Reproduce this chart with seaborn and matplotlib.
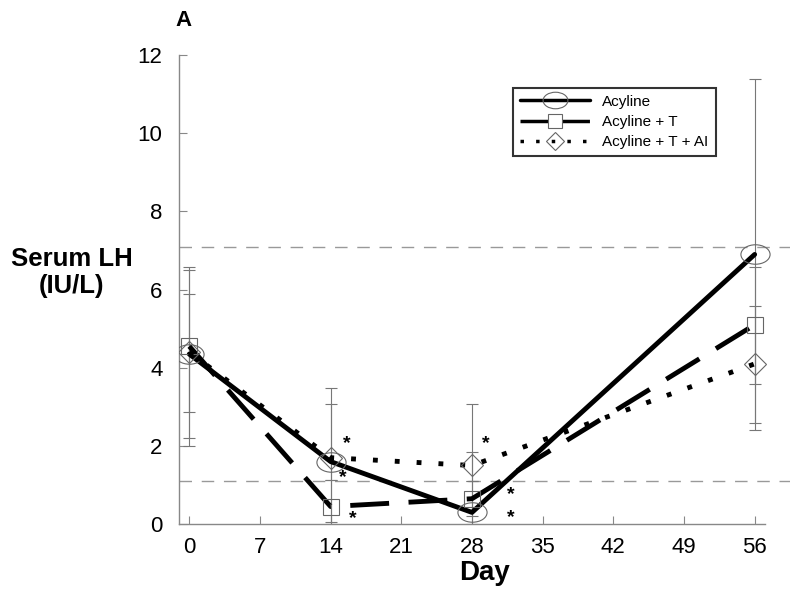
import numpy as np
import pandas as pd
import matplotlib
matplotlib.use("Agg")
import matplotlib.pyplot as plt
import seaborn as sns
from matplotlib.path import Path
from matplotlib.transforms import Affine2D

# ------------------------------------------------------------
# Data (serum LH, IU/L)
# ------------------------------------------------------------
days = [0, 14, 28, 56]
x_ticks = [0, 7, 14, 21, 28, 35, 42, 49, 56]

acyline = [4.35, 1.6, 0.3, 6.9]
acyline_hi = [6.5, 3.48, 3.07, 11.4]
acyline_lo = [2.2, 0.05, 0.0, 2.4]

acyline_t = [4.55, 0.45, 0.65, 5.1]
acyline_t_hi = [6.57, 1.12, 1.1, 6.57]
acyline_t_lo = [2.0, 0.0, 0.2, 3.58]

acyline_t_ai = [4.4, 1.7, 1.5, 4.1]
acyline_t_ai_hi = [5.9, 3.07, 1.84, 5.57]
acyline_t_ai_lo = [2.86, 1.12, 1.1, 2.58]

ref_low, ref_high = 1.1, 7.1

# significance stars (day, level)
star_x = [15.6, 15.2, 16.2, 29.4, 31.8, 31.8]
star_y = [2.07, 1.2, 0.15, 2.07, 0.75, 0.18]

# ------------------------------------------------------------
sns.set_style("ticks")
plt.rcParams["font.family"] = ["Liberation Sans", "DejaVu Sans"]
plt.rcParams["text.color"] = "black"

ellipse = Path.unit_circle().transformed(Affine2D().scale(1.5, 1.0))

series = [
    ("Acyline", acyline, acyline_lo, acyline_hi, "-", ellipse, 21),
    ("Acyline + T", acyline_t, acyline_t_lo, acyline_t_hi, (0, (8, 4)), "s", 12),
    ("Acyline + T + AI", acyline_t_ai, acyline_t_ai_lo, acyline_t_ai_hi, (0, (1, 3.5)), "D", 11),
]

fig = plt.figure(figsize=(8, 5.99), dpi=100)
ax = fig.add_axes([0.224, 0.125, 0.7635, 0.783])

for name, vals, lo, hi, ls, mk, ms in series:
    v = np.array(vals)
    ax.errorbar(days, v, yerr=[v - np.array(lo), np.array(hi) - v], fmt="none",
                ecolor="#777777", elinewidth=0.8, capsize=4, capthick=0.8, zorder=1)
    df = pd.DataFrame({"day": days, "lh": vals})
    sns.lineplot(data=df, x="day", y="lh", ax=ax, color="black", lw=3.5, linestyle=ls,
                 marker=mk, ms=ms, mfc="none", mec="#666666", mew=0.8, label=name, zorder=3)

ax.axhline(ref_high, color="#999999", lw=1, ls=(0, (9, 7)), zorder=0)
ax.axhline(ref_low, color="#999999", lw=1, ls=(0, (9, 7)), zorder=0)

for sx, sy in zip(star_x, star_y):
    ax.text(sx, sy, "*", fontsize=14, fontweight="bold", ha="center", va="center")

ax.set_xlim(-1, 59.5)
ax.set_ylim(0, 12)
ax.set_xticks(x_ticks)
ax.set_yticks(range(0, 13, 2))
ax.spines["bottom"].set_bounds(-1, 57)
ax.spines["left"].set_bounds(0, 12)
sns.despine(ax=ax)
for s in ["bottom", "left"]:
    ax.spines[s].set_color("#888888")
    ax.spines[s].set_linewidth(1)
ax.tick_params(axis="both", direction="in", length=6, color="#888888",
               labelsize=16, labelcolor="black")
ax.tick_params(axis="x", pad=9)
ax.tick_params(axis="y", pad=12)

ax.set_xlabel("Day", fontsize=20, fontweight="bold", labelpad=2, color="black")
ax.set_ylabel("")
fig.text(0.09, 0.545, "Serum LH\n(IU/L)", fontsize=18.5, fontweight="bold",
         ha="center", va="center", linespacing=1.2)
fig.text(0.229, 0.965, "A", fontsize=16, fontweight="bold", ha="center", va="center")

leg = ax.legend(loc="upper right", bbox_to_anchor=(0.904, 0.866), bbox_transform=fig.transFigure,
                fontsize=11, handlelength=4.6, frameon=True, fancybox=False,
                borderpad=0.45, labelspacing=0.4, markerscale=0.85)
leg.get_frame().set_edgecolor("black")
leg.get_frame().set_linewidth(1.5)
for line in leg.get_lines():
    line.set_linewidth(2.5)

fig.savefig("out.png", dpi=100)
